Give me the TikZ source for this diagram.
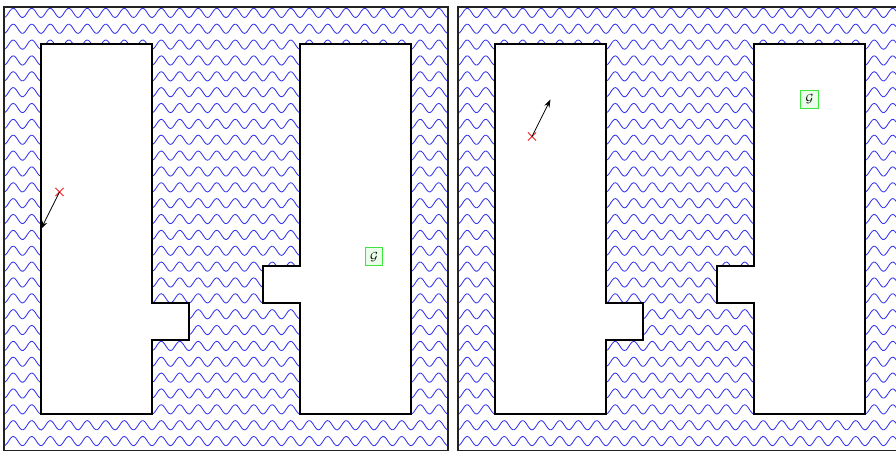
\documentclass[tikz,border=0pt]{standalone}
\usepackage{xcolor,tikz}
\usetikzlibrary{arrows.meta,shapes.misc}
\definecolor{wasser}{HTML}{3434F0}
\definecolor{rand}{HTML}{222222}
\definecolor{ziel}{HTML}{3CE63C}
\definecolor{zieltint}{HTML}{EAFDEA}
\definecolor{start}{HTML}{F02020}
\tikzset{welle/.style={wasser,line width=0.65pt},
  raum/.style={fill=white,draw=black,line width=0.9pt,line join=miter},
  rahmen/.style={rand,line width=1.3pt},
  kreuz/.style={cross out,draw=start,line width=0.6pt,inner sep=0,minimum size=0.2cm},
  zielbox/.style={draw=ziel,fill=zieltint,line width=0.6pt,inner sep=0,minimum size=0.48cm,font=\small},
  pfeil/.style={black,line width=0.6pt,-{Stealth[length=2.2mm,width=1.5mm]}}}
% ein Feld: Wellen, zwei Raeume, Rahmen
\newcommand{\feld}[1]{%
  \begin{scope}[xshift=#1cm]
    \begin{scope}
      \clip (0,0) rectangle (12,12);
      \foreach \r in {0,...,27}
        \draw[welle] plot[domain=0:12,samples=300,smooth]
          (\x,{11.84-0.4286*\r-0.125*cos(720*\x)});
    \end{scope}
    \draw[raum] (1,1) -- (1,11) -- (4,11) -- (4,4) -- (5,4) -- (5,3) -- (4,3) -- (4,1) -- cycle;
    \draw[raum] (8,1) -- (8,4) -- (7,4) -- (7,5) -- (8,5) -- (8,11) -- (11,11) -- (11,1) -- cycle;
    \draw[rahmen] (0,0) rectangle (12,12);
  \end{scope}}

\begin{document}
\begin{tikzpicture}[x=1cm,y=1cm]
\useasboundingbox (-0.108,0) rectangle (24.108,12.189);
\feld{0}
\feld{12.27}
% links
\node[kreuz] (startA) at (1.5,7) {};
\coordinate (endeA) at (1,6);
\draw[pfeil] (startA.center) -- (endeA);
\node[zielbox] (zielA) at (10,5.25) {$\mathcal{G}$};
% rechts
\node[kreuz] (startB) at (14.27,8.5) {};
\coordinate (endeB) at (14.77,9.5);
\draw[pfeil] (startB.center) -- (endeB);
\node[zielbox] (zielB) at (21.77,9.5) {$\mathcal{G}$};
\end{tikzpicture}
\end{document}
